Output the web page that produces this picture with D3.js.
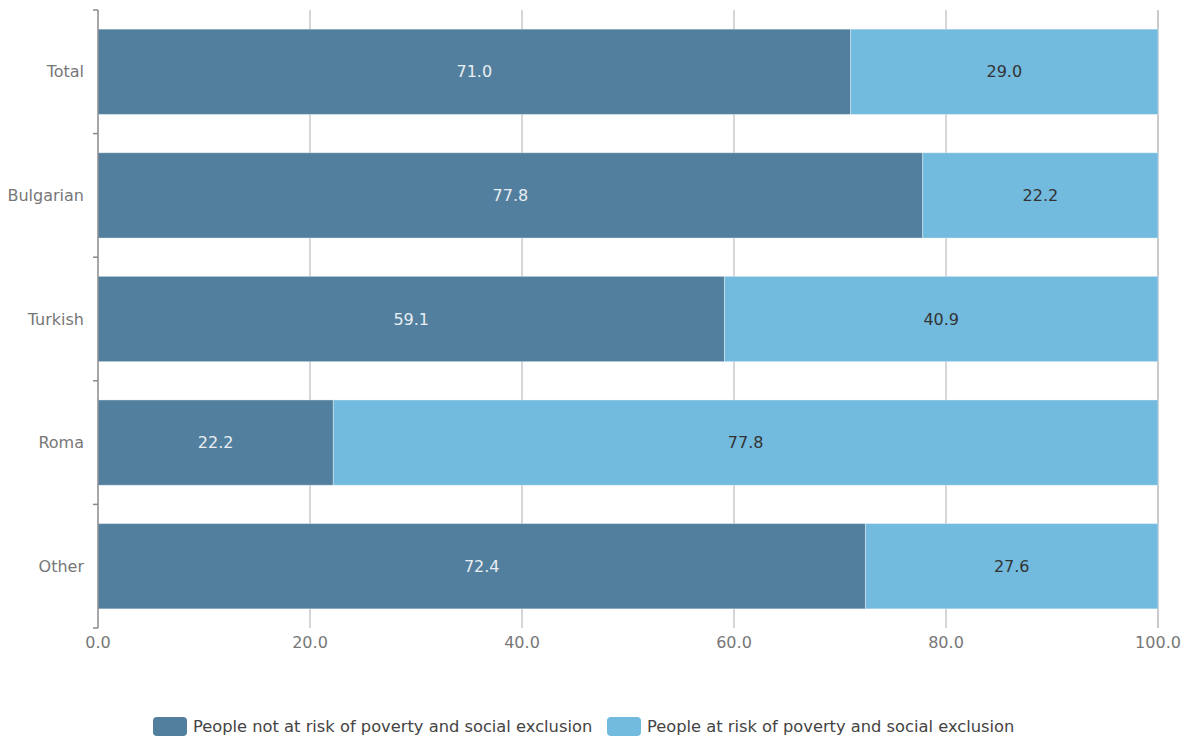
<!DOCTYPE html>
<html>
<head>
<meta charset="utf-8">
<script src="https://cdn.jsdelivr.net/npm/d3@7"></script>
<style>
  body { margin: 0; background: #fff; }
  text { font-family: "DejaVu Sans", sans-serif; }
</style>
</head>
<body>
<svg id="chart" width="1192" height="738"></svg>
<script>
// Ethnic groups and the share of people at / not at risk of poverty (%)
const categories = ["Total", "Bulgarian", "Turkish", "Roma", "Other"];
const notAtRisk = [71.0, 77.8, 59.1, 22.2, 72.4];
const atRisk = [29.0, 22.2, 40.9, 77.8, 27.6];
const seriesNames = ["People not at risk of poverty and social exclusion", "People at risk of poverty and social exclusion"];
const seriesColors = ["#537f9e", "#72bade"];
const xTicks = [0, 20, 40, 60, 80, 100];

const svg = d3.select("#chart");
const margin = { left: 98, right: 34, top: 10, bottom: 110 };
const W = 1192, H = 738;
const FS = 16;
const x = d3.scaleLinear().domain([0, 100]).range([margin.left, W - margin.right]);
const y = d3.scaleBand().domain(categories).range([margin.top, H - margin.bottom]).paddingInner(0.31).paddingOuter(0.155);

// vertical grid lines
svg.append("g").selectAll("line").data(xTicks.slice(1)).join("line")
  .attr("x1", d => x(d)).attr("x2", d => x(d))
  .attr("y1", margin.top).attr("y2", H - margin.bottom)
  .attr("stroke", d => d === 100 ? "#b8b8bc" : "#c8c8cc").attr("stroke-width", 1.5);

// stacked bars
const rows = categories.map((c, i) => ({ c, v: [notAtRisk[i], atRisk[i]] }));
const g = svg.append("g");
rows.forEach(r => {
  let acc = 0;
  r.v.forEach((v, k) => {
    const x0 = x(acc), x1 = x(acc + v);
    g.append("rect")
      .attr("x", x0).attr("y", y(r.c))
      .attr("width", x1 - x0).attr("height", y.bandwidth())
      .attr("fill", seriesColors[k])
      .attr("stroke", "rgba(255,255,255,0.35)").attr("stroke-width", 1);
    g.append("text")
      .attr("x", (x0 + x1) / 2).attr("y", y(r.c) + y.bandwidth() / 2)
      .attr("dy", "0.35em").attr("text-anchor", "middle")
      .attr("font-size", FS)
      .attr("fill", k === 0 ? "#e8eef2" : "#333")
      .text(v.toFixed(1));
    acc += v;
  });
});

// left axis with ticks on band boundaries
const axisColor = "#8a8a8e";
const yAxis = svg.append("g");
yAxis.append("line").attr("x1", margin.left).attr("x2", margin.left)
  .attr("y1", margin.top).attr("y2", H - margin.bottom)
  .attr("stroke", axisColor).attr("stroke-width", 1.5);
const bounds = categories.map(c => y(c) - y.step() * y.paddingInner() / 2).concat([H - margin.bottom]);
bounds[0] = margin.top;
yAxis.selectAll("line.tk").data(bounds).join("line").attr("class", "tk")
  .attr("x1", margin.left - 5).attr("x2", margin.left)
  .attr("y1", d => d).attr("y2", d => d)
  .attr("stroke", axisColor).attr("stroke-width", 1.5);
yAxis.selectAll("text").data(categories).join("text")
  .attr("x", margin.left - 14).attr("y", d => y(d) + y.bandwidth() / 2)
  .attr("dy", "0.35em").attr("text-anchor", "end")
  .attr("font-size", FS).attr("fill", "#777")
  .text(d => d);

// bottom axis labels
svg.append("g").selectAll("text").data(xTicks).join("text")
  .attr("x", d => x(d)).attr("y", H - margin.bottom + 20)
  .attr("text-anchor", "middle").attr("font-size", FS).attr("fill", "#777")
  .text(d => d.toFixed(1));

// legend
const legendX = [153, 607];
const legend = svg.append("g");
seriesNames.forEach((name, k) => {
  legend.append("rect").attr("x", legendX[k]).attr("y", 717)
    .attr("width", 34).attr("height", 19).attr("rx", 4)
    .attr("fill", seriesColors[k]);
  legend.append("text").attr("x", legendX[k] + 40).attr("y", 726.5)
    .attr("dy", "0.35em").attr("font-size", 16.3).attr("fill", "#444")
    .text(name);
});
</script>
</body>
</html>
